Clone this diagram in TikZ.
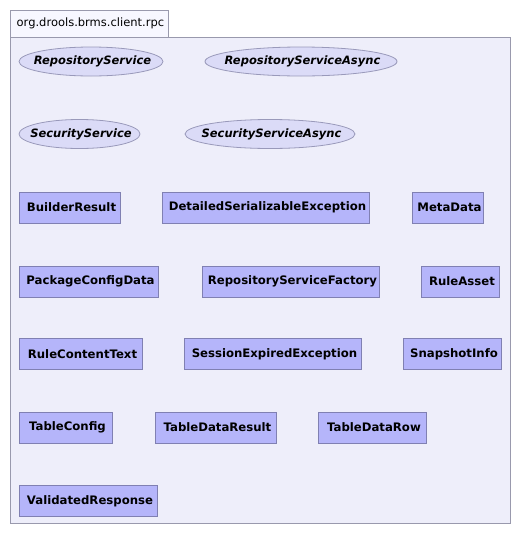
\documentclass[tikz,border=0pt]{standalone}
\usepackage{fontspec}
\setmainfont{DejaVu Sans}
\usetikzlibrary{shapes.geometric}
\definecolor{pkgframefill}{rgb}{0.933,0.933,0.98}
\definecolor{pkgframeline}{rgb}{0.6,0.6,0.68}
\definecolor{pkgtabfill}{rgb}{0.97,0.97,1.0}
\definecolor{classfill}{rgb}{0.71,0.71,0.98}
\definecolor{classline}{rgb}{0.5,0.5,0.7}
\definecolor{ifacefill}{rgb}{0.86,0.86,0.97}
\definecolor{ifaceline}{rgb}{0.6,0.6,0.73}
\tikzset{
  classbox/.style={draw=classline,fill=classfill,line width=0.8pt,rectangle,inner sep=0pt,minimum height=31pt,font=\fontsize{11.7}{13}\selectfont\bfseries},
  ifacebox/.style={draw=ifaceline,fill=ifacefill,line width=0.8pt,ellipse,inner sep=0pt,minimum height=29pt,font=\fontsize{11.5}{13}\selectfont\bfseries\itshape}
}
\begin{document}
\begin{tikzpicture}[x=1pt,y=-1pt]
\useasboundingbox (0,0) rectangle (521,536);
\draw[pkgframeline,fill=pkgframefill,line width=0.8pt] (10,37) rectangle (510,523);
\draw[pkgframeline,fill=pkgtabfill,line width=0.8pt] (10,10) rectangle (168,37);
\node[anchor=west,inner sep=0pt,font=\fontsize{11.5}{13}\selectfont] (pkgname) at (16.5,23.5) {org.drools.brms.client.rpc};
\node[ifacebox,minimum width=144pt] (repositoryservice) at (91,61.5) {\makebox[0pt]{\hspace{3pt}RepositoryService}};
\node[ifacebox,minimum width=192pt] (repositoryserviceasync) at (301,61.5) {\makebox[0pt]{\hspace{3pt}RepositoryServiceAsync}};
\node[ifacebox,minimum width=121pt] (securityservice) at (79.5,134) {\makebox[0pt]{\hspace{3pt}SecurityService}};
\node[ifacebox,minimum width=170pt] (securityserviceasync) at (270,134) {\makebox[0pt]{\hspace{3pt}SecurityServiceAsync}};
\node[classbox,minimum width=101pt] (builderresult) at (69.5,207.5) {\hspace{4pt}BuilderResult};
\node[classbox,minimum width=207pt] (detailedserializableexception) at (265.5,207.5) {\hspace{4pt}DetailedSerializableException};
\node[classbox,minimum width=71pt] (metadata) at (447.5,207.5) {\hspace{4pt}MetaData};
\node[classbox,minimum width=139pt] (packageconfigdata) at (88.5,281.5) {\hspace{4pt}PackageConfigData};
\node[classbox,minimum width=177pt] (repositoryservicefactory) at (290.5,281.5) {\hspace{4pt}RepositoryServiceFactory};
\node[classbox,minimum width=78pt] (ruleasset) at (460,281.5) {\hspace{4pt}RuleAsset};
\node[classbox,minimum width=123pt] (rulecontenttext) at (80.5,354) {\hspace{4pt}RuleContentText};
\node[classbox,minimum width=177pt] (sessionexpiredexception) at (272.5,354) {\hspace{4pt}SessionExpiredException};
\node[classbox,minimum width=98pt] (snapshotinfo) at (452,354) {\hspace{4pt}SnapshotInfo};
\node[classbox,minimum width=93pt] (tableconfig) at (65.5,427.5) {\hspace{4pt}TableConfig};
\node[classbox,minimum width=121pt] (tabledataresult) at (215.5,427.5) {\hspace{4pt}TableDataResult};
\node[classbox,minimum width=108pt] (tabledatarow) at (372,427.5) {\hspace{4pt}TableDataRow};
\node[classbox,minimum width=138pt] (validatedresponse) at (88,501) {\hspace{4pt}ValidatedResponse};
\end{tikzpicture}
\end{document}
